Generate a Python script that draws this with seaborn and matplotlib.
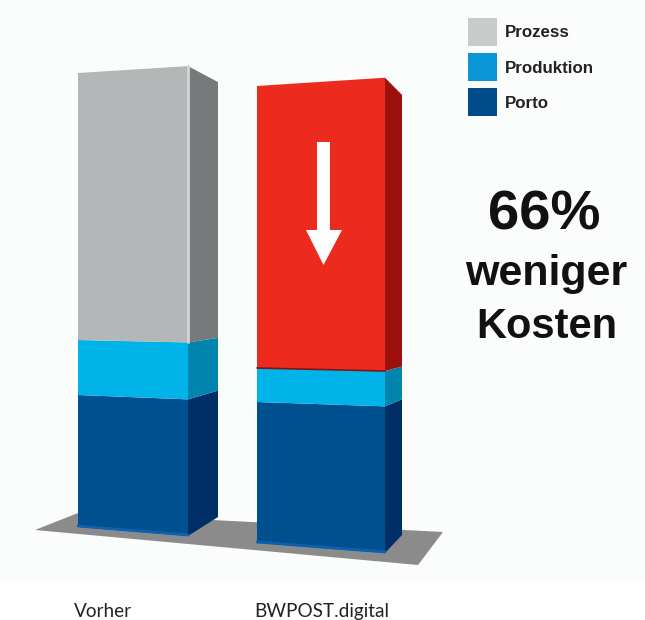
import matplotlib
matplotlib.use("Agg")
import matplotlib.pyplot as plt
import numpy as np
import seaborn as sns
from matplotlib.patches import Patch, Polygon
from matplotlib.transforms import Transform

categories = ["Vorher", "BWPOST.digital"]
segments = ["Porto", "Produktion", "Prozess"]
porto = [132, 141]
produktion = [55, 34]
prozess = [267, 282]

legend_labels = ["Prozess", "Produktion", "Porto"]
headline = ["66%", "weniger", "Kosten"]

# front and side colours, one row per bar, bottom segment first
front_colors = [["#00508F", "#00B3E8", "#B4B6B8"], ["#00508F", "#00B3E8", "#EC2A1E"]]
side_colors = [["#002F68", "#0086AE", "#77797B"], ["#002F68", "#0086AE", "#9C100E"]]
legend_colors = ["#C9CACB", "#0A96D6", "#004C8A"]

# fake perspective, all in pixels of the 645x620 picture
WIDTH, HEIGHT = 645, 620
CENTER_0, STEP, GROUND = 133, 188, 531
BAR_WIDTH = 0.6
widen = [0.975, 1.135]
depth = [30, 17]
base_left = [4, -12]
base_right = [-5, -22]
stretch_right = [1.035, 1.04]
side_base = [14, -4]
side_stretch = [0.958, 0.963]


def to_x(px):
    return (px - CENTER_0) / STEP


def to_y(py):
    return GROUND - py


class FrontWarp(Transform):
    # turns a flat seaborn bar into the slanted front face of the block
    input_dims = 2
    output_dims = 2
    has_inverse = False

    def __init__(self, i):
        super().__init__()
        self.i = i

    def transform_non_affine(self, values):
        values = np.asarray(values, dtype=float)
        i = self.i
        t = (values[:, 0] - (i - BAR_WIDTH / 2)) / BAR_WIDTH
        half = BAR_WIDTH / 2 * widen[i]
        x = i - half + t * 2 * half
        base = base_left[i] + t * (base_right[i] - base_left[i])
        y = base + values[:, 1] * (1 + t * (stretch_right[i] - 1))
        return np.column_stack([x, y])


sns.set_theme(style="white")
fig = plt.figure(figsize=(WIDTH / 100, HEIGHT / 100), dpi=100)
ax = fig.add_axes([0, 0, 1, 1])

ax.axhspan(to_y(582), to_y(0), color="#FBFCFC", zorder=0, lw=0)
floor = [(35, 530), (78, 513), (443, 532), (418, 565)]
ax.add_patch(Polygon([(to_x(a), to_y(b)) for a, b in floor], color="#8B8B8B", lw=0, zorder=1))

values = [porto, produktion, prozess]
for i, cat in enumerate(categories):
    warp = FrontWarp(i)
    bottom = 0
    for s, name in enumerate(segments):
        val = values[s][i]
        sns.barplot(x=[cat], y=[val], order=categories, color=front_colors[i][s],
                    saturation=1, width=BAR_WIDTH, bottom=bottom, ax=ax, zorder=3)
        bar = ax.patches[-1]
        bar.set_linewidth(0)
        bar.set_transform(warp + ax.transData)

        # side face follows the same bar heights
        right = warp.transform(np.array([[i + BAR_WIDTH / 2, bottom], [i + BAR_WIDTH / 2, bottom + val]]))
        far = right[0, 0] + depth[i] / STEP
        ax.add_patch(Polygon([right[0], right[1],
                              (far, side_base[i] + (bottom + val) * side_stretch[i]),
                              (far, side_base[i] + bottom * side_stretch[i])],
                             color=side_colors[i][s], lw=0, zorder=3))
        bottom += val

    # lighter rim along the foot of each block
    rim = warp.transform(np.array([[i - BAR_WIDTH / 2, 1], [i + BAR_WIDTH / 2, 1]]))
    ax.plot(rim[:, 0], rim[:, 1], color="#0B62AE", lw=2, zorder=4)

# light edge on the grey block, dark seam under the red one
edge = FrontWarp(0).transform(np.array([[BAR_WIDTH / 2, porto[0] + produktion[0]],
                                        [BAR_WIDTH / 2, porto[0] + produktion[0] + prozess[0]]]))
ax.plot(edge[:, 0], edge[:, 1], color="#D4D5D6", lw=2, zorder=4)
seam = FrontWarp(1).transform(np.array([[1 - BAR_WIDTH / 2, porto[1] + produktion[1]],
                                        [1 + BAR_WIDTH / 2, porto[1] + produktion[1]]]))
ax.plot(seam[:, 0], seam[:, 1], color="#7E1512", lw=1.2, zorder=4)

# white arrow on the red block
arrow = [(317, 142), (330, 142), (330, 230), (342, 230), (323.5, 265), (306, 230), (317, 230)]
ax.add_patch(Polygon([(to_x(a), to_y(b)) for a, b in arrow], color="white", lw=0, zorder=5))

ax.set_xlim(to_x(0), to_x(WIDTH))
ax.set_ylim(to_y(HEIGHT), to_y(0))
ax.axis("off")

handles = [Patch(color=c, lw=0) for c in legend_colors]
ax.legend(handles, legend_labels, loc="upper left", bbox_to_anchor=(468 / WIDTH, 1 - 18 / HEIGHT),
          frameon=False, borderpad=0, borderaxespad=0, handlelength=1.72, handleheight=2.17,
          labelspacing=0.42, handletextpad=0.47,
          prop={"family": "Liberation Sans", "weight": "bold", "size": 12.2}, labelcolor="#222222")

sizes = [40.5, 31, 30]
baselines = [230, 285, 338]
centers = [544, 546, 547]
for word, size, row, px in zip(headline, sizes, baselines, centers):
    ax.text(to_x(px), to_y(row), word, ha="center", va="baseline", family="Liberation Sans",
            weight="bold", fontsize=size, color="#111111")

label_x = [102.5, 322]
for cat, px in zip(categories, label_x):
    ax.text(to_x(px), to_y(617), cat, ha="center", va="baseline", family="Lato", fontsize=13.7, color="#222222")

fig.savefig("out.png", dpi=100)
